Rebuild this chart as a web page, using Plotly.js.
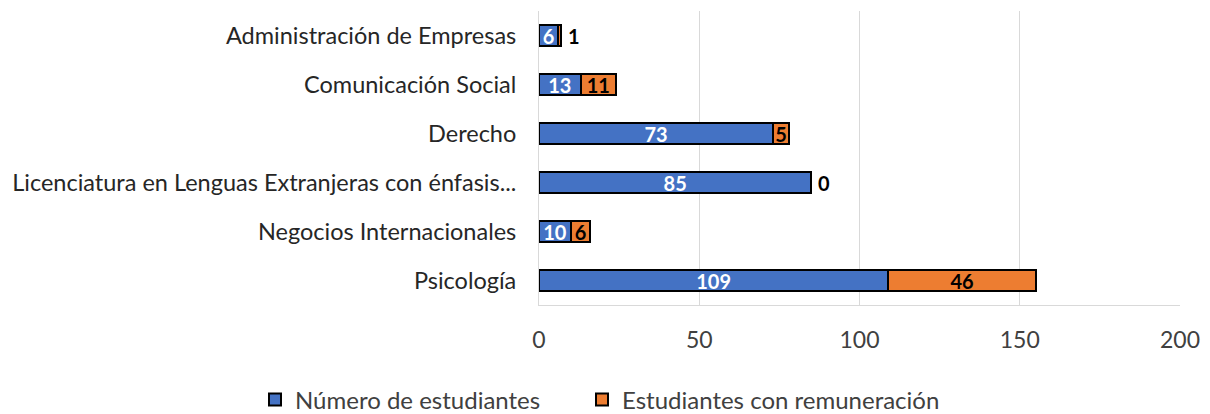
<!DOCTYPE html>
<html>
<head>
<meta charset="utf-8">
<script src="https://cdn.plot.ly/plotly-3.0.1.min.js"></script>
<style>
html,body{margin:0;padding:0;background:#fff;}
#chart{width:1210px;height:414px;}
</style>
</head>
<body>
<div id="chart"></div>
<script>
const categories = [
  "Administración de Empresas",
  "Comunicación Social",
  "Derecho",
  "Licenciatura en Lenguas Extranjeras con énfasis...",
  "Negocios Internacionales",
  "Psicología"
];
const numeroEstudiantes = [6, 13, 73, 85, 10, 109];
const conRemuneracion = [1, 11, 5, 0, 6, 46];
const seriesNames = ["Número de estudiantes", "Estudiantes con remuneración"];
const xTicks = [0, 50, 100, 150, 200];

const FONT = "Lato, 'Open Sans', sans-serif";
const W = 1210;

// values too small to hold their label are written just past the bar end
const outsideIdx = conRemuneracion.map((v, i) => v <= 1 ? i : -1).filter(i => i >= 0);

const traces = [
  {
    type: "bar", orientation: "h", name: seriesNames[0], legend: "legend",
    y: categories, x: numeroEstudiantes,
    text: numeroEstudiantes.map(String),
    textposition: "inside", insidetextanchor: "middle", textangle: 0,
    constraintext: "none",
    insidetextfont: {family: FONT, size: 20, color: "#ffffff", weight: "bold"},
    marker: {color: "#4472C4", line: {color: "#000000", width: 2}},
    hoverinfo: "x+y"
  },
  {
    type: "bar", orientation: "h", name: seriesNames[1], legend: "legend2",
    y: categories, x: conRemuneracion,
    text: conRemuneracion.map((v, i) => outsideIdx.includes(i) ? "" : String(v)),
    textposition: "inside", insidetextanchor: "middle", textangle: 0,
    constraintext: "none",
    insidetextfont: {family: FONT, size: 20, color: "#000000", weight: "bold"},
    marker: {color: "#ED7D31", line: {color: "#000000", width: 2}},
    hoverinfo: "x+y"
  }
];

const annotations = outsideIdx.map(i => ({
  x: numeroEstudiantes[i] + conRemuneracion[i], y: categories[i],
  xref: "x", yref: "y", text: String(conRemuneracion[i]),
  showarrow: false, xanchor: "left", xshift: 5,
  font: {family: FONT, size: 20, color: "#000000", weight: "bold"}
}));

const legendBase = {
  orientation: "h", y: -0.323, yanchor: "middle", xanchor: "left",
  font: {family: FONT, size: 24, color: "#404040"},
  itemwidth: 30
};

const layout = {
  width: W, height: 414,
  margin: {l: 0, r: 0, t: 11, b: 109, autoexpand: false},
  paper_bgcolor: "#ffffff", plot_bgcolor: "rgba(0,0,0,0)",
  barmode: "stack", bargap: 0.59,
  font: {family: FONT, color: "#404040", size: 23},
  xaxis: {
    domain: [539 / W, 1180 / W],
    range: [0, 200], tickvals: xTicks, ticktext: xTicks.map(String),
    showgrid: true, gridcolor: "#D9D9D9", gridwidth: 1,
    zeroline: false, showline: true, linecolor: "#D9D9D9", linewidth: 1,
    ticks: "", ticklabelstandoff: 14, automargin: false,
    tickfont: {family: FONT, size: 23, color: "#404040"}, fixedrange: true
  },
  yaxis: {
    autorange: "reversed", type: "category", automargin: false,
    showgrid: false, zeroline: false, showline: true, linecolor: "#D9D9D9", linewidth: 1,
    ticks: "", ticklabelstandoff: 17,
    tickfont: {family: FONT, size: 23.5, color: "#262626"}, fixedrange: true
  },
  annotations: annotations,
  showlegend: true,
  legend: Object.assign({}, legendBase, {x: 255 / W}),
  legend2: Object.assign({}, legendBase, {x: 582 / W})
};

Plotly.newPlot("chart", traces, layout, {displayModeBar: false, staticPlot: true});
</script>
</body>
</html>
